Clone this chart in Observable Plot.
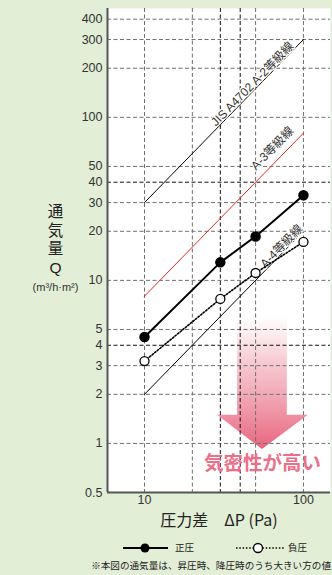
<!DOCTYPE html>
<html><head><meta charset="utf-8">
<script src="https://cdn.jsdelivr.net/npm/d3@7"></script>
<script src="https://cdn.jsdelivr.net/npm/@observablehq/plot@0.6"></script>
<style>
body{margin:0;background:#e2eed6;width:332px;height:575px;overflow:hidden;font-family:"Liberation Sans","Noto Sans CJK JP",sans-serif;}
#legend{display:block}
</style></head><body><div id="chart"></div>
<svg id="legend" width="332" height="40" font-family="'Noto Sans CJK JP','Liberation Sans',sans-serif">
  <line x1="123" x2="168" y1="13" y2="13" stroke="#000" stroke-width="2"/>
  <circle cx="145" cy="13" r="4.5" fill="#000"/>
  <text x="175" y="13" dominant-baseline="middle" font-size="9.5" fill="#222">正圧</text>
  <line x1="236" x2="285" y1="13" y2="13" stroke="#000" stroke-width="1.5" stroke-dasharray="1.5,1.8"/>
  <circle cx="258" cy="13" r="4.5" fill="#fff" stroke="#000" stroke-width="1.3"/>
  <text x="288" y="13" dominant-baseline="middle" font-size="9.5" fill="#222">負圧</text>
  <text x="331" y="31" text-anchor="end" dominant-baseline="middle" font-size="9.6" fill="#222">※本図の通気量は、昇圧時、降圧時のうち大きい方の値</text>
</svg>
<script>
// ---- data ----
const pressure = [10, 30, 50, 100];
const positiveQ = [4.5, 12.9, 18.6, 33.3];
const negativeQ = [3.2, 7.7, 11.1, 17.2];
const gradeNames = ["JIS A4702 A-2等級線", "A-3等級線", "A-4等級線"];
const gradeColors = ["#000", "#e8281e", "#000"];
const gradeStartP = 10, gradeEndP = 100;
const gradeAtStart = [30, 8, 2];
const gradeAtEnd = [300, 80, 20];
const gradeLabelP = [47.8, 63.8, 72.8];
const gradeLabelQ = [160, 64.5, 16.2];
const xTicks = [10, 20, 30, 40, 50, 100];
const yTicks = [0.5, 1, 2, 3, 4, 5, 10, 20, 30, 40, 50, 100, 200, 300, 400];
const darkX = [30, 40];
const darkY = [4, 40];
const arrowText = "気密性が高い";
const yLabelChars = ["通", "気", "量", "Q"];
const yUnit = "(m³/h·m²)";
const xLabel = "圧力差\u3000ΔP (Pa)";

// ---- tables ----
const posData = pressure.map((p, i) => ({p, q: positiveQ[i]}));
const negData = pressure.map((p, i) => ({p, q: negativeQ[i]}));
const gradeData = gradeNames.flatMap((name, i) => [
  {name, i, p: gradeStartP, q: gradeAtStart[i]},
  {name, i, p: gradeEndP, q: gradeAtEnd[i]}
]);
const gradeLabels = gradeNames.map((name, i) => ({name, p: gradeLabelP[i], q: gradeLabelQ[i]}));

// arrow shape in data coordinates
const arrowShape = {shaftL: 38.5, shaftR: 79.2, headL: 28.8, headR: 107.4, tip: 55.2,
  top: 6.1, headTop: 1.49, tipQ: 0.918};

function arrowMark(index, scales) {
  const X = scales.x, Y = scales.y;
  const ns = "http://www.w3.org/2000/svg";
  const g = document.createElementNS(ns, "g");
  const defs = document.createElementNS(ns, "defs");
  const a = arrowShape;
  const yTop = Y(a.top), yTip = Y(a.tipQ);
  defs.innerHTML = `<linearGradient id="arrowGrad" gradientUnits="userSpaceOnUse" x1="0" x2="0" y1="${yTop}" y2="${yTip}">
    <stop offset="0" stop-color="#f7c3cc" stop-opacity="0"/>
    <stop offset="0.35" stop-color="#f3b3be" stop-opacity="0.7"/>
    <stop offset="1" stop-color="#e8637d" stop-opacity="1"/></linearGradient>`;
  g.appendChild(defs);
  const poly = document.createElementNS(ns, "polygon");
  const pts = [
    [X(a.shaftL), yTop], [X(a.shaftR), yTop], [X(a.shaftR), Y(a.headTop)],
    [X(a.headR), Y(a.headTop)], [X(a.tip), yTip], [X(a.headL), Y(a.headTop)],
    [X(a.shaftL), Y(a.headTop)]
  ];
  poly.setAttribute("points", pts.map(d => d.join(",")).join(" "));
  poly.setAttribute("fill", "url(#arrowGrad)");
  g.appendChild(poly);
  return g;
}

const dash = "4,2.5";
const cjk = "'Noto Sans CJK JP','Liberation Sans',sans-serif";
const latinFirst = "'Liberation Sans','Noto Sans CJK JP',sans-serif";
const plot = Plot.plot({
  width: 332, height: 535,
  marginLeft: 107, marginRight: 2, marginTop: 8, marginBottom: 43,
  style: {background: "transparent", fontFamily: latinFirst, fontSize: "12.5px", color: "#333", overflow: "visible"},
  x: {type: "log", domain: [5.85, 148]},
  y: {type: "log", domain: [0.5, 465]},
  marks: [
    Plot.frame({fill: "white", stroke: null}),
    arrowMark,
    Plot.gridX(xTicks.filter(d => !darkX.includes(d)), {stroke: "#707070", strokeOpacity: 1, strokeDasharray: dash, strokeWidth: 1}),
    Plot.gridY(yTicks.filter(d => !darkY.includes(d) && d > 0.5), {stroke: "#707070", strokeOpacity: 1, strokeDasharray: dash, strokeWidth: 1}),
    Plot.gridX(darkX, {stroke: "#111", strokeOpacity: 1, strokeDasharray: dash, strokeWidth: 1}),
    Plot.gridY(darkY, {stroke: "#111", strokeOpacity: 1, strokeDasharray: dash, strokeWidth: 1}),
    Plot.ruleX([5.85], {stroke: "#555", strokeWidth: 2}),
    Plot.ruleY([0.5], {stroke: "#555", strokeWidth: 2}),
    Plot.line(gradeData, {x: "p", y: "q", z: "name", stroke: d => gradeColors[d.i], strokeWidth: 1}),
    Plot.text(gradeLabels, {x: "p", y: "q", text: "name", rotate: -45.7, fontSize: 12, fill: "#333",
      stroke: "white", strokeWidth: 2.5, fontFamily: latinFirst}),
    Plot.line(negData, {x: "p", y: "q", stroke: "#000", strokeWidth: 1.6, strokeDasharray: "1.5,1.8"}),
    Plot.dot(negData, {x: "p", y: "q", r: 4.5, fill: "white", stroke: "#000", strokeWidth: 1.3}),
    Plot.line(posData, {x: "p", y: "q", stroke: "#000", strokeWidth: 2}),
    Plot.dot(posData, {x: "p", y: "q", r: 4.5, fill: "#000", stroke: "#000"}),
    Plot.text([arrowText], {x: arrowShape.tip, y: 0.753, text: d => d, fontSize: 19.5, fontWeight: "bold",
      fill: "#ec6f8a", fontFamily: cjk}),
    Plot.axisX(xTicks, {tickSize: 0, tickPadding: 3, tickFormat: d => String(d), label: null, fontSize: 12.5, fill: "#333"}),
    Plot.axisY(yTicks, {tickSize: 0, tickPadding: 5, tickFormat: d => String(d), label: null, fontSize: 12.5, fill: "#333"}),
    Plot.text([xLabel], {frameAnchor: "bottom", dy: 33, text: d => d, fontSize: 16, fill: "#222", fontFamily: cjk}),
    ...yLabelChars.map((c, i) => Plot.text([c], {frameAnchor: "left", dx: -52, dy: -38 + i * 18.5, text: d => d,
      fontSize: 15.5, textAnchor: "middle", fill: "#222", fontFamily: latinFirst})),
    Plot.text([yUnit], {frameAnchor: "left", dx: -52, dy: 37, text: d => d, fontSize: 11,
      textAnchor: "middle", fill: "#333"})
  ]
});
document.getElementById("chart").appendChild(plot);
</script>
</body></html>
